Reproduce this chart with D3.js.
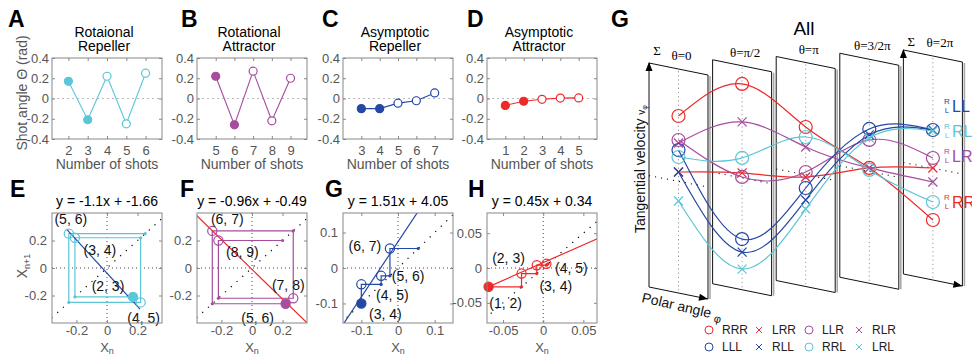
<!DOCTYPE html>
<html><head><meta charset="utf-8">
<script src="https://cdn.jsdelivr.net/npm/d3@7"></script>
<style>body{margin:0;background:#fff;} svg{display:block;}</style>
</head><body><script>
// ---------------- DATA ----------------
const titleLine1 = ["Rotaional", "Rotational", "Asymptotic", "Asymptotic"];
const titleLine2 = ["Repeller", "Attractor", "Repeller", "Attractor"];
const shotsA = [2, 3, 4, 5, 6];  const anglesA = [0.17, -0.21, 0.22, -0.25, 0.25];
const shotsB = [5, 6, 7, 8, 9];  const anglesB = [0.22, -0.26, 0.27, -0.22, 0.20];
const shotsC = [3, 4, 5, 6, 7];  const anglesC = [-0.10, -0.10, -0.046, -0.022, 0.055];
const shotsD = [1, 2, 3, 4, 5];  const anglesD = [-0.068, -0.027, -0.008, 0.004, 0.006];
const filledCount = 2;
const angleTicks = [-0.4, -0.2, 0, 0.2, 0.4];

const fitTitles = ["y = -1.1x + -1.66", "y = -0.96x + -0.49", "y = 1.51x + 4.05", "y = 0.45x + 0.34"];
const fitSlopes = [-1.21, -1.08, 1.556, 0.51];
const fitIntercepts = [-0.038, -0.01, 0.074, 0.0077];
const mapTicksEF = [-0.2, 0, 0.2];
const mapTicksG = [-0.1, 0, 0.1];
const mapTicksH = [-0.05, 0, 0.05];

const planeLabels = ["θ=0", "θ=π/2", "θ=π", "θ=3/2π", "θ=2π"];
const patternNames = ["RRR", "LRR", "LLR", "RLR", "LLL", "RLL", "RRL", "LRL"];
const patternMarker = ["o", "x", "o", "x", "o", "x", "o", "x"];
const velRRR = [6.5, 9.38, 4.75, 0.33, -5.2];
const velLRR = [0.9, 0.48, -0.25, 0.33, 0.0];
const velLLR = [4.1, 0.08, 0.25, 3.13, 1.0];
const velRLR = [3.8, 5.58, 2.75, 0.33, -1.4];
const velLLL = [3.1, -6.13, -1.35, 4.23, 3.8];
const velRLL = [0.9, -7.43, -2.55, 3.63, 3.8];
const velRRL = [2.4, 1.98, 3.75, 0.13, -3.4];
const velLRL = [-2.0, -9.13, -3.45, 3.33, 3.7];
const sideLabels = ["LL", "RL", "LR", "RR"];

// ---------------- STYLE ----------------
const cRed = "#ec2a2a", cPurple = "#a64d9f", cBlue = "#2348a5", cCyan = "#5cc6d6";
const FONT = "'Liberation Sans', Arial, Helvetica, sans-serif";
const SERIF = "'Liberation Serif', 'Times New Roman', serif";
const svg = d3.select("body").append("svg").attr("width", 972).attr("height", 358)
  .style("font-family", FONT);

const fmt = d => d === 0 ? "0" : String(d);
function styleAxis(sel, showText = true) {
  sel.select(".domain").remove();
  sel.selectAll(".tick line").attr("stroke", "#888");
  sel.selectAll("text").attr("fill", "#555").style("font-size", "13px").style("font-family", FONT);
  if (!showText) sel.selectAll("text").remove();
}
function letter(t, x, y) {
  svg.append("text").attr("x", x).attr("y", y).text(t).style("font-size", "23px").style("font-weight", "bold").attr("fill", "#000");
}

// ---------------- TOP PANELS A-D ----------------
const topPanels = [
  {L: "A", shots: shotsA, vals: anglesA, color: cCyan, x0: 52, dom: [1.15, 6.85], lx: 8},
  {L: "B", shots: shotsB, vals: anglesB, color: cPurple, x0: 197, dom: [4.0, 9.88], lx: 181},
  {L: "C", shots: shotsC, vals: anglesC, color: cBlue, x0: 343, dom: [2, 8], lx: 322},
  {L: "D", shots: shotsD, vals: anglesD, color: cRed, x0: 487, dom: [0, 6], lx: 467}
];
const TY0 = 58, TY1 = 139, PW = 110;
topPanels.forEach((p, i) => {
  const g = svg.append("g");
  const x = d3.scaleLinear().domain(p.dom).range([p.x0, p.x0 + PW]);
  const y = d3.scaleLinear().domain([-0.4, 0.4]).range([TY1, TY0]);
  g.append("line").attr("x1", p.x0).attr("x2", p.x0 + PW).attr("y1", y(0)).attr("y2", y(0))
    .attr("stroke", "#bbb").attr("stroke-dasharray", "2,3");
  g.append("g").attr("transform", `translate(0,${TY1})`)
    .call(d3.axisBottom(x).tickValues(p.shots).tickSizeInner(-3).tickSizeOuter(0).tickPadding(7).tickFormat(fmt)).call(styleAxis);
  g.append("g").attr("transform", `translate(0,${TY0})`)
    .call(d3.axisTop(x).tickValues(p.shots).tickSizeInner(-3).tickSizeOuter(0)).call(s => styleAxis(s, false));
  g.append("g").attr("transform", `translate(${p.x0},0)`)
    .call(d3.axisLeft(y).tickValues(angleTicks).tickSizeInner(-3).tickSizeOuter(0).tickPadding(3).tickFormat(fmt)).call(styleAxis);
  g.append("g").attr("transform", `translate(${p.x0 + PW},0)`)
    .call(d3.axisRight(y).tickValues(angleTicks).tickSizeInner(-3).tickSizeOuter(0)).call(s => styleAxis(s, false));
  g.append("rect").attr("x", p.x0).attr("y", TY0).attr("width", PW).attr("height", TY1 - TY0)
    .attr("fill", "none").attr("stroke", "#888");
  const pts = p.shots.map((s, k) => [x(s), y(p.vals[k])]);
  g.append("path").attr("d", d3.line()(pts)).attr("fill", "none").attr("stroke", p.color).attr("stroke-width", 1.1);
  g.selectAll("circle.m").data(pts).join("circle").attr("cx", d => d[0]).attr("cy", d => d[1]).attr("r", 4)
    .attr("fill", (d, k) => k < filledCount ? p.color : "#fff").attr("stroke", p.color).attr("stroke-width", 1.2);
  const cx = p.x0 + PW / 2 - 3;
  g.append("text").attr("x", cx).attr("y", 37).attr("text-anchor", "middle").style("font-size", "14px").text(titleLine1[i]);
  g.append("text").attr("x", cx).attr("y", 51).attr("text-anchor", "middle").style("font-size", "14px").text(titleLine2[i]);
  g.append("text").attr("x", p.x0 + PW / 2).attr("y", 169).attr("text-anchor", "middle").attr("fill", "#555")
    .style("font-size", "14px").text("Number of shots");
  letter(p.L, p.lx, 27);
});
svg.append("text").attr("transform", "translate(27,93) rotate(-90)").attr("text-anchor", "middle")
  .attr("fill", "#555").style("font-size", "14px").text("Shot angle Θ (rad)");

// ---------------- BOTTOM PANELS E-H ----------------
const BY0 = 213, BY1 = 323;
const bottomPanels = [
  {L: "E", src: topPanels[0], xdom: [-0.36, 0.36], ydom: [-0.4, 0.4], ticks: mapTicksEF, lx: 10, seg: [-0.265, 0.216], lineColor: cBlue,
   off: [[-25, -11], [25, 12], [3, 16], [2, -15]]},
  {L: "F", src: topPanels[1], xdom: [-0.36, 0.36], ydom: [-0.4, 0.4], ticks: mapTicksEF, lx: 180, seg: null, lineColor: cRed,
   off: [[-28, 14], [15, -12], [-5, -13], [24, 12]]},
  {L: "G", src: topPanels[2], xdom: [-0.15, 0.15], ydom: [-0.155, 0.155], ticks: mapTicksG, lx: 325, seg: null, lineColor: cBlue,
   off: [[24, 11], [31, 11], [27, 0], [-25, -2]]},
  {L: "H", src: topPanels[3], xdom: [-0.07, 0.067], ydom: [-0.079, 0.079], ticks: mapTicksH, lx: 468, seg: null, lineColor: cRed,
   off: [[17, 16], [-13, -15], [19, 21], [25, 4]]}
];
bottomPanels.forEach((p, i) => {
  const s = p.src, x0 = s.x0;
  const g = svg.append("g");
  const x = d3.scaleLinear().domain(p.xdom).range([x0, x0 + PW]);
  const y = d3.scaleLinear().domain(p.ydom).range([BY1, BY0]);
  const clipId = "clip" + i;
  svg.append("clipPath").attr("id", clipId).append("rect").attr("x", x0).attr("y", BY0).attr("width", PW).attr("height", BY1 - BY0);
  const inner = g.append("g").attr("clip-path", `url(#${clipId})`);
  inner.append("line").attr("x1", x(0)).attr("x2", x(0)).attr("y1", BY0).attr("y2", BY1).attr("stroke", "#444").attr("stroke-dasharray", "1,3");
  inner.append("line").attr("x1", x0).attr("x2", x0 + PW).attr("y1", y(0)).attr("y2", y(0)).attr("stroke", "#444").attr("stroke-dasharray", "1,3");
  inner.append("line").attr("x1", x(-1)).attr("y1", y(-1)).attr("x2", x(1)).attr("y2", y(1))
    .attr("stroke", "#000").attr("stroke-width", 1.2).attr("stroke-dasharray", "1.2,6.5");
  const X = s.vals;
  const web = [[X[0], X[1]]];
  for (let k = 1; k < X.length - 1; k++) { web.push([X[k], X[k]]); web.push([X[k], X[k + 1]]); }
  web.push([X[X.length - 1], X[X.length - 1]]);
  inner.append("path").attr("d", d3.line().x(d => x(d[0])).y(d => y(d[1]))(web))
    .attr("fill", "none").attr("stroke", s.color).attr("stroke-width", 1.2);
  inner.selectAll("circle.dot").data(X.slice(1)).join("circle").attr("cx", d => x(d)).attr("cy", d => y(d)).attr("r", 1.6).attr("fill", s.color);
  const sx = p.seg || [-1, 1];
  inner.append("line").attr("x1", x(sx[0])).attr("y1", y(fitSlopes[i] * sx[0] + fitIntercepts[i]))
    .attr("x2", x(sx[1])).attr("y2", y(fitSlopes[i] * sx[1] + fitIntercepts[i]))
    .attr("stroke", p.lineColor).attr("stroke-width", 1.2);
  const pairs = X.slice(0, -1).map((v, k) => ({a: v, b: X[k + 1], n: s.shots[k], k}));
  g.selectAll("circle.pm").data(pairs).join("circle").attr("cx", d => x(d.a)).attr("cy", d => y(d.b)).attr("r", 4.6)
    .attr("fill", d => d.k === 0 ? s.color : "none").attr("stroke", s.color).attr("stroke-width", 1.2);
  g.selectAll("text.pl").data(pairs).join("text").attr("x", d => x(d.a) + p.off[d.k][0]).attr("y", d => y(d.b) + p.off[d.k][1])
    .attr("dy", "0.35em").attr("text-anchor", "middle").style("font-size", "14px").attr("fill", "#111")
    .text(d => `(${d.n}, ${d.n + 1})`);
  g.append("g").attr("transform", `translate(0,${BY1})`)
    .call(d3.axisBottom(x).tickValues(p.ticks).tickSizeInner(-3).tickSizeOuter(0).tickPadding(3).tickFormat(fmt)).call(styleAxis);
  g.append("g").attr("transform", `translate(0,${BY0})`)
    .call(d3.axisTop(x).tickValues(p.ticks).tickSizeInner(-3).tickSizeOuter(0)).call(s2 => styleAxis(s2, false));
  g.append("g").attr("transform", `translate(${x0},0)`)
    .call(d3.axisLeft(y).tickValues(p.ticks).tickSizeInner(-3).tickSizeOuter(0).tickPadding(5).tickFormat(fmt)).call(styleAxis);
  g.append("g").attr("transform", `translate(${x0 + PW},0)`)
    .call(d3.axisRight(y).tickValues(p.ticks).tickSizeInner(-3).tickSizeOuter(0)).call(s2 => styleAxis(s2, false));
  g.append("rect").attr("x", x0).attr("y", BY0).attr("width", PW).attr("height", BY1 - BY0).attr("fill", "none").attr("stroke", "#888");
  g.append("text").attr("x", x0 + PW / 2).attr("y", 206).attr("text-anchor", "middle").style("font-size", "14px").text(fitTitles[i]);
  const xl = g.append("text").attr("x", x0 + PW / 2).attr("y", 352).attr("text-anchor", "middle").attr("fill", "#555").style("font-size", "13px");
  xl.append("tspan").text("X");
  xl.append("tspan").attr("dy", 2).style("font-size", "9px").text("n");
  letter(p.L, p.lx, 197);
});
const yl = svg.append("text").attr("transform", "translate(27,266) rotate(-90)").attr("text-anchor", "middle")
  .attr("fill", "#555").style("font-size", "14px");
yl.append("tspan").text("X");
yl.append("tspan").attr("dy", 3).style("font-size", "9px").text("n+1");

// ---------------- BIG PANEL G ----------------
letter("G", 611, 27);
svg.append("text").attr("x", 804).attr("y", 35).attr("text-anchor", "middle").style("font-size", "19px").text("All");
const planeIdx = d3.range(planeLabels.length);
const planeLeft = d3.scaleLinear().domain([0, 4]).range([649, 903.4]);
const planeTop = d3.scaleLinear().domain([0, 4]).range([63, 50]);
const zeroY = d3.scaleLinear().domain([0, 4]).range([181, 168]);
const vScale = d3.scaleLinear().domain([-10, 10]).range([100, -100]);
const PWd = 59, PH = 224, SK = 12;
const big = svg.append("g");
planeIdx.forEach(i => {
  const L = planeLeft(i), T = planeTop(i);
  big.append("line").attr("x1", L + PWd + 2).attr("y1", T + SK + 1).attr("x2", L + PWd + 2).attr("y2", T + SK + PH)
    .attr("stroke", "#aaa").attr("stroke-width", 1.6);
  big.append("path").attr("d", `M${L},${T + PH}L${L},${T}L${L + PWd},${T + SK}L${L + PWd},${T + SK + PH}Z`)
    .attr("fill", "none").attr("stroke", "#111").attr("stroke-width", 1);
  big.append("line").attr("x1", L + PWd / 2).attr("x2", L + PWd / 2).attr("y1", T + SK / 2 + 2).attr("y2", T + PH + SK / 2)
    .attr("stroke", "#999").attr("stroke-dasharray", "1.2,3");
  const z = zeroY(i);
  big.append("line").attr("x1", L - (i === 0 ? 6 : 0)).attr("y1", z - 5.5 - (i === 0 ? 1 : 0)).attr("x2", L + PWd).attr("y2", z + 6)
    .attr("stroke", "#111").attr("stroke-width", 1.1).attr("stroke-dasharray", "1.1,5");
  big.append("text").attr("x", L + PWd / 2 + (i === 4 ? 7 : 3)).attr("y", T - 3).attr("text-anchor", "middle")
    .style("font-family", SERIF).style("font-size", "13px").text(planeLabels[i]);
  if (i === 0 || i === 4) {
    big.append("text").attr("x", L + 8).attr("y", i === 0 ? 55 : 46).attr("text-anchor", "middle")
      .style("font-family", SERIF).style("font-size", "13px").text("Σ");
    big.append("path").attr("d", `M${L},${T - 1}l-3.5,9l7,0z`).attr("fill", "#000");
    const bx = L + PWd, by = T + PH + SK;
    const ang = Math.atan2(SK, PWd);
    big.append("path").attr("d", "M0,0l-9,-3.5l0,7z").attr("transform", `translate(${bx},${by}) rotate(${ang * 180 / Math.PI})`).attr("fill", "#000");
  }
});
const patternVals = [velRRR, velLRR, velLLR, velRLR, velLLL, velRLL, velRRL, velLRL];
const patternColor = [cRed, cRed, cPurple, cPurple, cBlue, cBlue, cCyan, cCyan];
const cxOf = i => planeLeft(i) + PWd / 2;
const curve = d3.line().curve(d3.curveNatural);
patternVals.forEach((vals, j) => {
  const pts = vals.map((v, i) => [cxOf(i), zeroY(i) + vScale(v)]);
  big.append("path").attr("d", curve(pts)).attr("fill", "none").attr("stroke", patternColor[j]).attr("stroke-width", 1.2);
  pts.forEach(pt => {
    if (patternMarker[j] === "o") {
      big.append("circle").attr("cx", pt[0]).attr("cy", pt[1]).attr("r", 6.5).attr("fill", "none").attr("stroke", patternColor[j]).attr("stroke-width", 1.2);
    } else {
      big.append("path").attr("d", `M${pt[0] - 4.5},${pt[1] - 4.5}L${pt[0] + 4.5},${pt[1] + 4.5}M${pt[0] - 4.5},${pt[1] + 4.5}L${pt[0] + 4.5},${pt[1] - 4.5}`)
        .attr("stroke", patternColor[j]).attr("stroke-width", 1.2);
    }
  });
});
const tv = svg.append("text").attr("transform", "translate(645,233) rotate(-90)").attr("text-anchor", "start")
  .style("font-size", "14px").attr("fill", "#111");
tv.append("tspan").text("Tangential velocity ");
tv.append("tspan").style("font-size", "10px").text("v");
tv.append("tspan").attr("dy", 2).style("font-size", "7px").text("φ");
const pa = svg.append("text").attr("transform", "translate(641,302) rotate(13)").style("font-size", "14px").attr("fill", "#111");
pa.append("tspan").text("Polar angle ");
pa.append("tspan").attr("dy", 3).style("font-size", "11px").text("φ");
const sideColors = [cBlue, cCyan, cPurple, cRed];
const sideY = [112, 137, 162, 208];
sideLabels.forEach((t, k) => {
  const yb = sideY[k];
  big.append("text").attr("x", 947).attr("y", yb - 8).attr("text-anchor", "middle").style("font-size", "8px").attr("fill", sideColors[k]).text("R");
  big.append("text").attr("x", 947).attr("y", yb + 1).attr("text-anchor", "middle").style("font-size", "8px").attr("fill", sideColors[k]).text("L");
  big.append("text").attr("x", 952).attr("y", yb).style("font-size", "16px").attr("fill", sideColors[k]).text(t);
});
const legX = [709, 759, 809, 859];
const legY = [330, 347];
patternNames.forEach((n, j) => {
  const col = j % 4, row = Math.floor(j / 4);
  const lx = legX[col], ly = legY[row];
  if (patternMarker[j] === "o") {
    svg.append("circle").attr("cx", lx).attr("cy", ly).attr("r", 4).attr("fill", "none").attr("stroke", patternColor[j]).attr("stroke-width", 1);
  } else {
    svg.append("path").attr("d", `M${lx - 3},${ly - 3}L${lx + 3},${ly + 3}M${lx - 3},${ly + 3}L${lx + 3},${ly - 3}`).attr("stroke", patternColor[j]).attr("stroke-width", 1);
  }
  svg.append("text").attr("x", lx + 13).attr("y", ly).attr("dy", "0.35em").style("font-size", "12px").attr("fill", "#222").text(n);
});
</script></body></html>
